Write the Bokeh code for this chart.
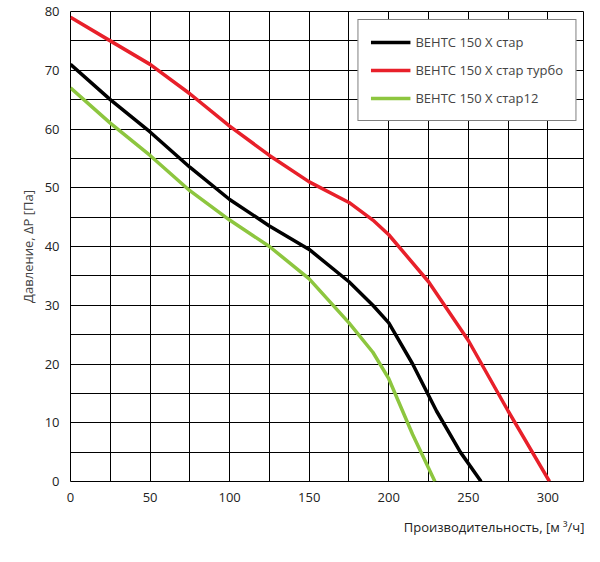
from bokeh.plotting import figure
from bokeh.models import Legend, LegendItem, Title, SingleIntervalTicker, Range1d
from bokeh.embed import file_html
from bokeh.resources import INLINE

x_black = [0, 25, 50, 75, 100, 125, 150, 175, 190, 200, 215, 230, 245, 258]
y_black = [71, 65, 59.5, 53.5, 48, 43.5, 39.5, 34, 30, 27, 20, 12, 5, 0]
x_red = [0, 25, 50, 75, 100, 125, 150, 175, 190, 200, 225, 250, 275, 301]
y_red = [79, 75, 71, 66, 60.5, 55.5, 51, 47.5, 44.5, 42, 34, 24, 12, 0]
x_green = [0, 25, 50, 75, 100, 125, 150, 175, 190, 200, 215, 229]
y_green = [67, 61, 55.5, 49.5, 44.5, 40, 34.5, 27, 22, 17.5, 8, 0]
names = ["ВЕНТС 150 Х стар", "ВЕНТС 150 Х стар турбо", "ВЕНТС 150 Х стар12"]
colors = ["#000000", "#e8202a", "#8dc63f"]

p = figure(width=584, height=546, output_backend="svg", toolbar_location=None,
           x_range=Range1d(0, 323), y_range=Range1d(0, 80),
           min_border_left=70, min_border_right=0, min_border_top=11, min_border_bottom=10)
p.outline_line_color = "black"
p.xaxis.ticker = SingleIntervalTicker(interval=50, num_minor_ticks=2)
p.yaxis.ticker = SingleIntervalTicker(interval=10, num_minor_ticks=2)
for ax in (p.xaxis, p.yaxis):
    ax.major_label_text_font = "Open Sans"
    ax.major_label_text_font_size = "13px"
    ax.major_label_text_color = "#222222"
    ax.axis_line_color = None
    ax.major_tick_line_color = None
    ax.minor_tick_line_color = None
p.yaxis.axis_label = "Давление, ΔP [Па]"
p.yaxis.axis_label_text_font = "Open Sans"
p.yaxis.axis_label_text_font_style = "normal"
p.yaxis.axis_label_text_font_size = "13px"
p.xgrid.grid_line_color = "black"
p.ygrid.grid_line_color = "black"
p.xgrid.minor_grid_line_color = "black"
p.ygrid.minor_grid_line_color = "black"

items = []
for xs, ys, n, c in zip([x_black, x_red, x_green], [y_black, y_red, y_green], names, colors):
    r = p.line(xs, ys, line_color=c, line_width=3.5)
    items.append(LegendItem(label=n, renderers=[r]))
leg = Legend(items=items, location="top_right", label_text_font="Open Sans",
             label_text_font_size="13px", border_line_color="black", border_line_width=1,
             background_fill_alpha=1, glyph_width=40, spacing=8, padding=12, margin=8)
p.add_layout(leg)
p.add_layout(Title(text="Производительность, [м ³/ч]", align="right", text_font="Open Sans",
                   text_font_size="13px", text_font_style="normal", text_color="#222222",
                   standoff=22), "below")

open("out.html", "w").write(file_html(p, INLINE))
